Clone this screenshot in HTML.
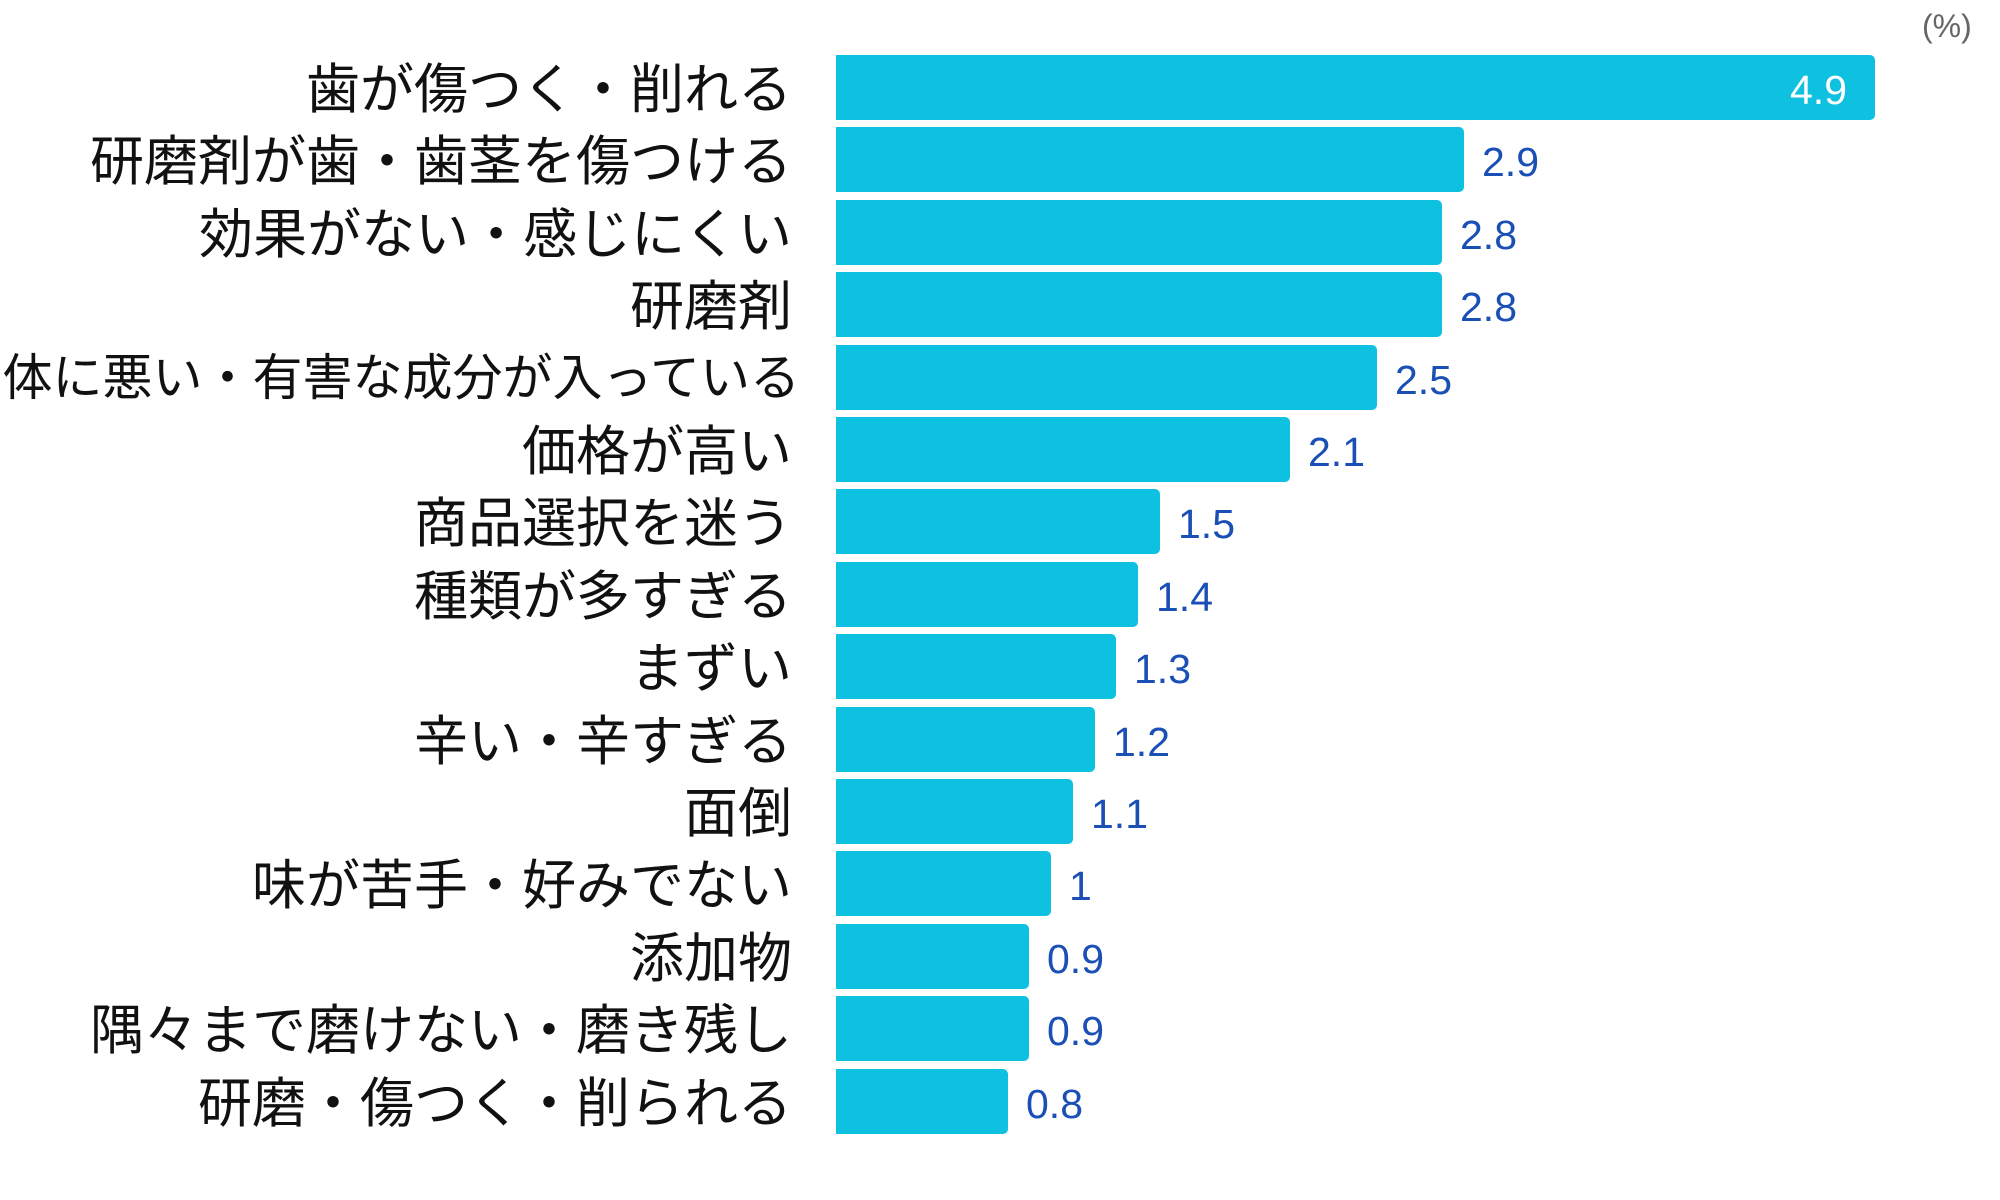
<!DOCTYPE html>
<html><head><meta charset="utf-8"><style>
body{margin:0;width:2000px;height:1200px;background:#fff;position:relative;overflow:hidden;font-family:"Liberation Sans","Noto Sans CJK JP",sans-serif}
.bar{position:absolute;left:836px;height:65px;background:#0fc1e0;border-radius:0 5px 5px 0}
.lab{position:absolute;right:1208px;font-size:54px;line-height:65px;color:#111;white-space:nowrap;font-family:"Noto Sans CJK JP",sans-serif}
.val{position:absolute;font-size:41px;line-height:65px;color:#1a4fb5}
</style></head><body>
<div style="position:absolute;left:1922px;top:8px;font-size:32px;color:#666">(%)</div>
<div id="c"></div>
<script>
var d=[["歯が傷つく・削れる",1875,"4.9"],["研磨剤が歯・歯茎を傷つける",1464,"2.9"],["効果がない・感じにくい",1442,"2.8"],["研磨剤",1442,"2.8"],["体に悪い・有害な成分が入っている",1377,"2.5"],["価格が高い",1290,"2.1"],["商品選択を迷う",1160,"1.5"],["種類が多すぎる",1138,"1.4"],["まずい",1116,"1.3"],["辛い・辛すぎる",1095,"1.2"],["面倒",1073,"1.1"],["味が苦手・好みでない",1051,"1"],["添加物",1029,"0.9"],["隅々まで磨けない・磨き残し",1029,"0.9"],["研磨・傷つく・削られる",1008,"0.8"]];
var h="";
d.forEach(function(r,i){var t=55+72.4*i;
h+='<div class="bar" style="top:'+t+'px;width:'+(r[1]-836)+'px"></div>';
h+='<div class="lab" style="top:'+(t-3)+'px;'+(i==4?'font-size:50px;right:1200px':'')+'">'+r[0]+'</div>';
if(i==0)h+='<div class="val" style="top:'+(t+3)+'px;left:1790px;color:#fff">'+r[2]+'</div>';
else h+='<div class="val" style="top:'+(t+3)+'px;left:'+(r[1]+18)+'px">'+r[2]+'</div>';});
document.getElementById("c").innerHTML=h;
</script>
</body></html>
